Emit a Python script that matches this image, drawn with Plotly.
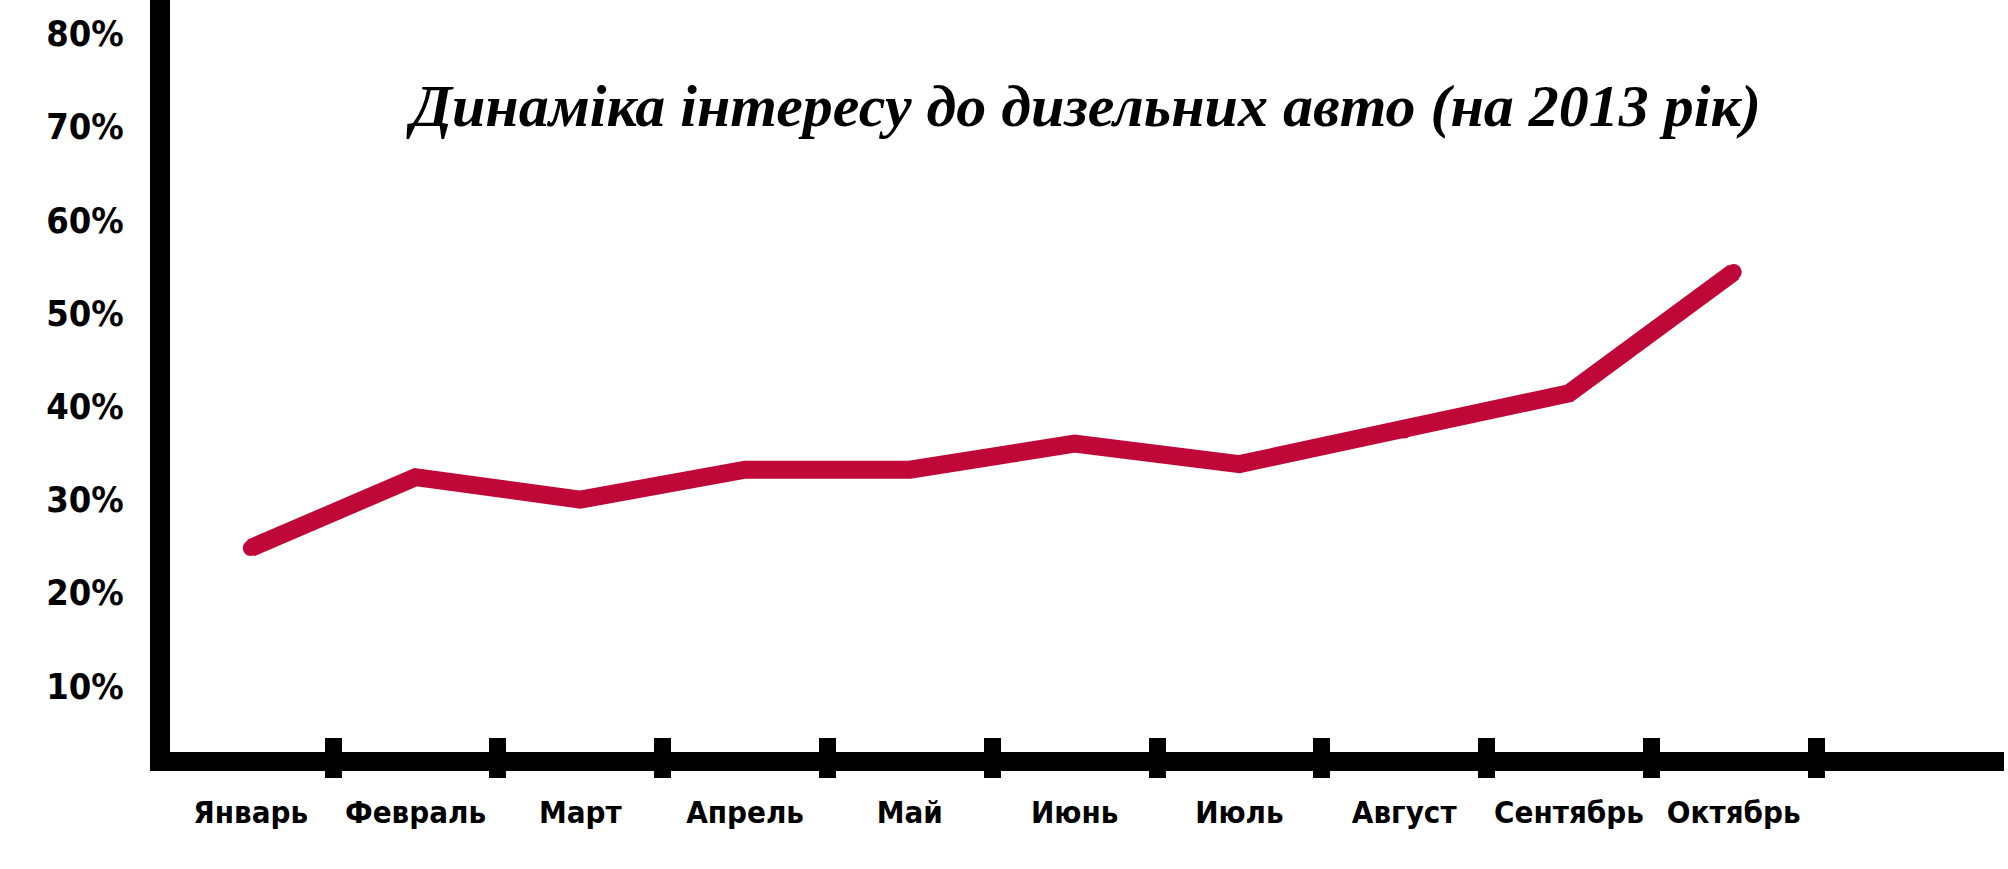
import plotly.graph_objects as go

months = ["Январь", "Февраль", "Март", "Апрель", "Май", "Июнь",
          "Июль", "Август", "Сентябрь", "Октябрь"]
interest = [24.8, 32.4, 30.0, 33.2, 33.2, 36.0, 33.8, 37.4, 41.4, 54.4]
y_ticks = [10, 20, 30, 40, 50, 60, 70, 80]
y_tick_labels = [f"{v}%" for v in y_ticks]
title_text = "Динаміка інтересу до дизельних авто (на 2013 рік)"

LINE_COLOR = "#C00838"
NARROW = "Liberation Sans Narrow, Arial Narrow, DejaVu Sans Condensed, Roboto, sans-serif"
label_font = dict(family=NARROW, size=31, color="black", weight="bold")

X_RANGE = [-0.49, 10.64]

fig = go.Figure()
fig.add_trace(go.Scatter(
    x=months, y=interest, mode="lines+markers",
    line=dict(color=LINE_COLOR, width=18),
    marker=dict(color=LINE_COLOR, size=16, line=dict(width=0)),
    hoverinfo="skip", showlegend=False,
))
# empty trace so that the secondary (outer tick) axis is drawn
fig.add_trace(go.Scatter(
    x=months, y=[None] * len(months), xaxis="x2", mode="lines",
    hoverinfo="skip", showlegend=False,
))

fig.update_layout(
    width=2008, height=869,
    margin=dict(l=170, r=4, t=0, b=117, pad=0, autoexpand=False),
    paper_bgcolor="white", plot_bgcolor="white",
    xaxis=dict(
        type="category", categoryorder="array", categoryarray=months,
        tickmode="array", tickvals=months, ticktext=months,
        tickson="boundaries", ticks="inside", ticklen=14, tickwidth=17,
        tickcolor="black",
        showline=True, linewidth=19, linecolor="black",
        showgrid=False, zeroline=False,
        range=X_RANGE, automargin=False, tickangle=0,
        tickfont=label_font, ticklabelstandoff=15,
    ),
    xaxis2=dict(
        type="category", categoryorder="array", categoryarray=months,
        overlaying="x", anchor="y", side="bottom",
        tickmode="array", tickvals=months,
        tickson="boundaries", ticks="outside", ticklen=7, tickwidth=17,
        tickcolor="black", showticklabels=False,
        showline=True, linewidth=19, linecolor="black",
        showgrid=False, zeroline=False,
        range=X_RANGE, automargin=False,
    ),
    yaxis=dict(
        range=[2.92, 83.59],
        tickmode="array", tickvals=y_ticks, ticktext=y_tick_labels,
        ticks="", showline=True, linewidth=20, linecolor="black",
        showgrid=False, zeroline=False, automargin=False,
        tickfont=dict(family=NARROW, size=36, color="black", weight="bold"),
        ticklabelstandoff=19,
    ),
    annotations=[dict(
        text=title_text, xref="paper", yref="paper",
        x=0.498, y=0.859, xanchor="center", yanchor="middle",
        showarrow=False,
        font=dict(family="Liberation Serif", size=60, color="black",
                  weight="bold", style="italic"),
    )],
)

fig.write_html("out.html")
